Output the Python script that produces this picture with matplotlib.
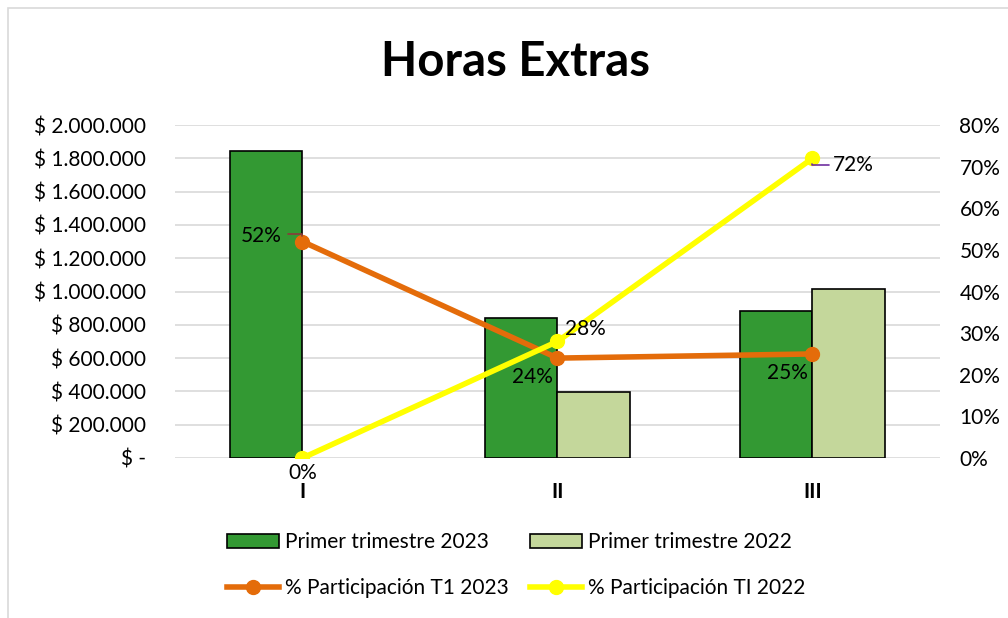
import matplotlib.pyplot as plt
import matplotlib.patches as mpatches
from matplotlib.ticker import FuncFormatter, MultipleLocator

# datos
categorias = ["I", "II", "III"]
t1_2023 = [1845000, 840000, 883000]
t1_2022 = [0, 396000, 1015000]
part_2023 = [0.52, 0.24, 0.25]
part_2022 = [0.0, 0.28, 0.72]

verde = "#339933"
verde_claro = "#C4D79B"
naranja = "#E46C0A"
amarillo = "#FFFF00"

plt.rcParams['font.family'] = ['Lato', 'DejaVu Sans']

fig = plt.figure(figsize=(10.08, 6.18), dpi=100)
ax = fig.add_axes([0.1736, 0.2589, 0.7589, 0.5388])
ax2 = ax.twinx()

# borde del grafico
fig.patches.append(mpatches.Rectangle((8 / 1008, -0.1), 1.2, 1.1 - 8 / 618,
                                      transform=fig.transFigure, fill=False,
                                      edgecolor="#d9d9d9", lw=1.2))

x = list(range(len(categorias)))
w = 0.286
b1 = ax.bar([i - w / 2 for i in x], t1_2023, width=w, color=verde, edgecolor="black",
            linewidth=1.2, zorder=2)
b2 = ax.bar([i + w / 2 for i in x], t1_2022, width=w, color=verde_claro, edgecolor="black",
            linewidth=1.2, zorder=2)
# barras en cero sin borde
for barras, vals in ((b1, t1_2023), (b2, t1_2022)):
    for p, v in zip(barras.patches, vals):
        if v == 0:
            p.set_edgecolor("none")

ax.set_xlim(-0.5, 2.5)
ax.set_ylim(0, 2000000)
ax.yaxis.set_major_locator(MultipleLocator(200000))


def pesos(v, pos):
    if v == 0:
        return "$ -"
    return "$ " + f"{int(v):,}".replace(",", ".")


fs = 15
ax.yaxis.set_major_formatter(FuncFormatter(pesos))
ax.grid(axis="y", color="#d9d9d9", lw=1.2, zorder=0)
ax.set_axisbelow(True)
for s in ax.spines.values():
    s.set_visible(False)
for s in ax2.spines.values():
    s.set_visible(False)
ax.set_xticks(x)
ax.set_xticklabels(categorias, fontweight="bold", fontsize=fs)
ax.tick_params(axis="both", length=0, labelsize=fs)
ax.tick_params(axis="x", pad=17)
ax.tick_params(axis="y", pad=21)

l_2023, = ax2.plot(x, part_2023, color=naranja, lw=4, marker="o", ms=10, zorder=3)
l_2022, = ax2.plot(x, part_2022, color=amarillo, lw=4, marker="o", ms=10, zorder=3)
ax2.set_ylim(0, 0.8)
ax2.yaxis.set_major_locator(MultipleLocator(0.1))
ax2.yaxis.set_major_formatter(FuncFormatter(lambda v, p: f"{v * 100:.0f}%"))
ax2.tick_params(axis="y", length=0, labelsize=fs, pad=14)
ax.set_zorder(1)
ax.patch.set_visible(False)
ax2.set_zorder(2)

# etiquetas de datos
ax2.annotate("52%", (x[0], part_2023[0]), xytext=(-15, 4), textcoords="offset points",
             fontsize=fs, va="center", ha="right",
             arrowprops=dict(arrowstyle="-", color="#8B3A3A", lw=1.2,
                             connectionstyle="angle,angleA=0,angleB=90,rad=0",
                             shrinkA=0, shrinkB=4, relpos=(1.15, 0.6)))
ax2.text(x[1] - 0.1, part_2023[1] - 0.045, "24%", fontsize=fs, ha="center", va="center")
ax2.text(x[2] - 0.1, part_2023[2] - 0.045, "25%", fontsize=fs, ha="center", va="center")
ax2.text(x[1] + 0.11, part_2022[1] + 0.03, "28%", fontsize=fs, ha="center", va="center")
ax2.annotate("72%", (x[2], part_2022[2]), xytext=(15, -5), textcoords="offset points",
             fontsize=fs, va="center",
             arrowprops=dict(arrowstyle="-", color="#7030A0", lw=1.2,
                             connectionstyle="angle,angleA=0,angleB=90,rad=0",
                             shrinkA=0, shrinkB=4, relpos=(-0.1, 0.5)))
ax2.text(x[0], part_2022[0] - 0.036, "0%", fontsize=fs, ha="center", va="center")

fig.text(0.511, 0.9, "Horas Extras", fontsize=34, fontweight="bold", ha="center", va="center")

# leyenda
handles = [
    mpatches.Patch(facecolor=verde, edgecolor="black", lw=1.2),
    l_2023,
    mpatches.Patch(facecolor=verde_claro, edgecolor="black", lw=1.2),
    l_2022,
]
labels = ["Primer trimestre 2023", "% Participación T1 2023",
          "Primer trimestre 2022", "% Participación TI 2022"]
fig.legend(handles, labels, ncol=2, loc="center", bbox_to_anchor=(0.512, 0.085),
           frameon=False, fontsize=fs, handlelength=2.5, handletextpad=0.3,
           columnspacing=1.0, labelspacing=1.25)

fig.savefig("out.png", dpi=100)
